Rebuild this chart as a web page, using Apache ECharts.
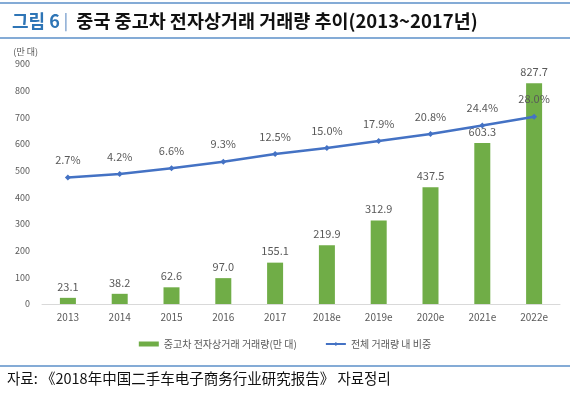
<!DOCTYPE html>
<html>
<head>
<meta charset="utf-8">
<script src="https://cdn.jsdelivr.net/npm/echarts@6/dist/echarts.min.js"></script>
<style>
html, body { margin: 0; padding: 0; background: #fff; }
#chart { width: 570px; height: 398px; }
</style>
</head>
<body>
<div id="chart"></div>
<script>
var years = ['2013', '2014', '2015', '2016', '2017', '2018e', '2019e', '2020e', '2021e', '2022e'];
var volume = [23.1, 38.2, 62.6, 97.0, 155.1, 219.9, 312.9, 437.5, 603.3, 827.7];
var share = [2.7, 4.2, 6.6, 9.3, 12.5, 15.0, 17.9, 20.8, 24.4, 28.0];
var yTicks = [0, 100, 200, 300, 400, 500, 600, 700, 800, 900];

var font = '"Noto Sans CJK KR", "Noto Sans", sans-serif';
var chart = echarts.init(document.getElementById('chart'));

var option = {
    animation: false,
    textStyle: { fontFamily: font },
    title: {
        left: 7,
        top: 7,
        text: '{a|그림 6}{s| |}  {b|중국 중고차 전자상거래 거래량 추이(2013~2017년)}',
        textStyle: {
            rich: {
                a: { color: '#2E75B6', fontSize: 18, fontFamily: font },
                s: { color: '#8FAFD6', fontSize: 16, fontFamily: font },
                b: { color: '#111', fontSize: 18.5, fontWeight: 'bold', fontFamily: font }
            }
        }
    },
    graphic: [
        { type: 'line', shape: { x1: 0, y1: 3, x2: 570, y2: 3 }, style: { stroke: '#5B8FC9', lineWidth: 1.5 } },
        { type: 'line', shape: { x1: 0, y1: 38, x2: 570, y2: 38 }, style: { stroke: '#5B8FC9', lineWidth: 1.5 } },
        { type: 'line', shape: { x1: 0, y1: 366, x2: 570, y2: 366 }, style: { stroke: '#5B8FC9', lineWidth: 1.5 } },
        {
            type: 'text', left: 7, top: 371,
            style: { text: '자료: 《2018年中国二手车电子商务行业研究报告》 자료정리', fill: '#111', font: '14.5px ' + font }
        }
    ],
    legend: {
        top: 334,
        left: 'center',
        itemGap: 28,
        itemWidth: 20,
        itemHeight: 5,
        textStyle: { color: '#595959', fontSize: 10, fontFamily: font },
        data: [
            { name: '중고차 전자상거래 거래량(만 대)', icon: 'rect' },
            { name: '전체 거래량 내 비중' }
        ]
    },
    grid: { left: 42, right: 10, top: 64, bottom: 94 },
    xAxis: {
        type: 'category',
        data: years,
        axisLine: { lineStyle: { color: '#D9D9D9' } },
        axisTick: { show: false },
        axisLabel: { color: '#595959', fontSize: 10, margin: 8 }
    },
    yAxis: [
        {
            type: 'value',
            min: yTicks[0],
            max: yTicks[yTicks.length - 1],
            interval: 100,
            name: '(만 대)',
            nameGap: 8,
            nameTextStyle: { color: '#595959', fontSize: 9, align: 'right', padding: [0, 4, 0, 0] },
            splitLine: { show: false },
            axisLine: { show: false },
            axisTick: { show: false },
            axisLabel: { color: '#595959', fontSize: 9, margin: 12 }
        },
        {
            type: 'value',
            min: -50,
            max: 50,
            show: false,
            splitLine: { show: false }
        }
    ],
    series: [
        {
            name: '중고차 전자상거래 거래량(만 대)',
            type: 'bar',
            data: volume,
            barWidth: 16,
            itemStyle: { color: '#70AD47' },
            label: {
                show: true,
                position: 'top',
                distance: 6,
                color: '#595959',
                fontSize: 11,
                formatter: function (p) { return p.value.toFixed(1); }
            }
        },
        {
            name: '전체 거래량 내 비중',
            type: 'line',
            yAxisIndex: 1,
            data: share,
            symbol: 'diamond',
            symbolSize: 6,
            lineStyle: { color: '#4472C4', width: 2.5 },
            itemStyle: { color: '#4472C4' },
            label: {
                show: true,
                position: 'top',
                distance: 9,
                color: '#595959',
                fontSize: 11,
                formatter: function (p) { return p.value.toFixed(1) + '%'; }
            }
        }
    ]
};
chart.setOption(option);
</script>
</body>
</html>
